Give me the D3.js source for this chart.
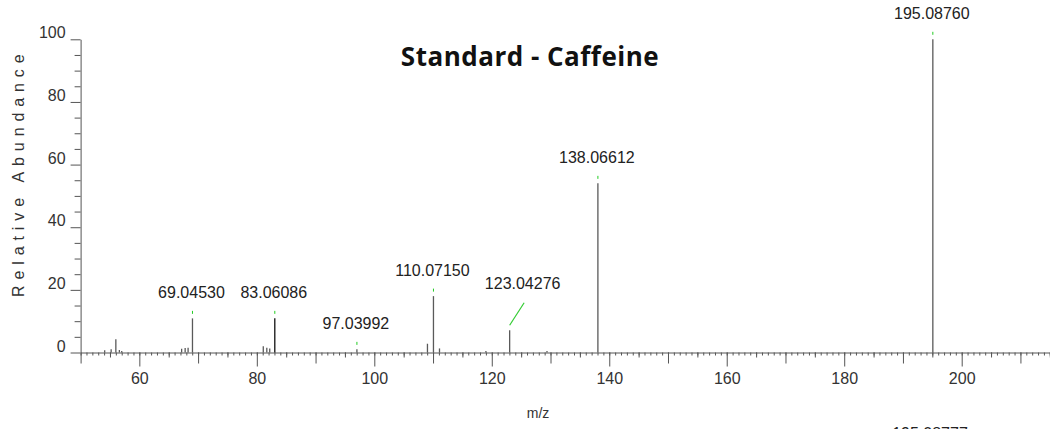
<!DOCTYPE html>
<html>
<head>
<meta charset="utf-8">
<script src="https://cdn.jsdelivr.net/npm/d3@7"></script>
<style>
  html, body { margin: 0; padding: 0; background: #fff; }
  svg { display: block; }
</style>
</head>
<body>
<svg id="chart" width="1050" height="429"></svg>
<script>
// Mass spectrum of a caffeine standard: centroid peaks (m/z, relative abundance %)
const peakMz = [54.1, 55.2, 56.0, 56.6, 57.0, 67.2, 67.8, 68.3, 69.04530, 81.1, 81.7, 82.2,
                83.06086, 97.03992, 109.05, 110.07150, 111.1, 119.0, 123.04276, 129.4,
                138.06612, 195.08760];
const peakIntensity = [0.7, 1.0, 4.2, 0.8, 0.5, 1.2, 1.4, 1.5, 10.9, 2.0, 1.5, 1.3,
                       10.9, 1.0, 2.8, 18.0, 1.3, 0.5, 7.1, 0.5,
                       54.0, 100];
// Peaks that carry an m/z annotation
const labeledMz = [69.04530, 83.06086, 97.03992, 110.07150, 123.04276, 138.06612, 195.08760];
const labeledText = ["69.04530", "83.06086", "97.03992", "110.07150", "123.04276", "138.06612", "195.08760"];
// Axis ticks
const xTickLabels = [60, 80, 100, 120, 140, 160, 180, 200];
const yTickLabels = [0, 20, 40, 60, 80, 100];
const xDomain = [50, 215];
const yDomain = [0, 100];

const svg = d3.select("#chart");
const x = d3.scaleLinear().domain(xDomain).range([80.6, 1049.8]);
const y = d3.scaleLinear().domain(yDomain).range([352.5, 39.3]);
const axisColor = "#555";
const textColor = "#333";
const tickFont = "'Liberation Sans', Arial, sans-serif";

function styleAxis(g, keepDomain) {
  if (!keepDomain) g.select(".domain").remove();
  else g.select(".domain").attr("stroke", axisColor);
  g.selectAll(".tick line").attr("stroke", axisColor);
}

// x axis: 1-unit, 5-unit, 10-unit and labelled 20-unit ticks
const range = (a, b, s) => d3.range(a, b + 1e-9, s);
svg.append("g").attr("transform", `translate(0,${y(0)})`)
  .call(d3.axisBottom(x).tickValues(range(51, 215, 1)).tickSize(3).tickFormat(""))
  .call(g => styleAxis(g, true));
svg.append("g").attr("transform", `translate(0,${y(0)})`)
  .call(d3.axisBottom(x).tickValues(range(55, 215, 10)).tickSize(5).tickFormat(""))
  .call(g => styleAxis(g, false));
svg.append("g").attr("transform", `translate(0,${y(0)})`)
  .call(d3.axisBottom(x).tickValues(range(50, 215, 10).filter(v => !xTickLabels.includes(v))).tickSize(11).tickFormat(""))
  .call(g => styleAxis(g, false));
svg.append("g").attr("transform", `translate(0,${y(0)})`)
  .call(d3.axisBottom(x).tickValues(xTickLabels).tickSize(14).tickPadding(6).tickFormat(d3.format("d")))
  .call(g => styleAxis(g, false))
  .call(g => g.selectAll("text").attr("fill", textColor)
    .style("font-family", tickFont).style("font-size", "16px"));

// y axis: minor ticks every 5, labelled every 20
svg.append("g").attr("transform", `translate(${x(50)},0)`)
  .call(d3.axisLeft(y).tickValues(range(5, 95, 5).filter(v => v % 20 !== 0)).tickSize(6).tickFormat(""))
  .call(g => styleAxis(g, false));
svg.append("g").attr("transform", `translate(${x(50)},0)`)
  .call(d3.axisLeft(y).tickValues(yTickLabels).tickSize(10).tickSizeOuter(0).tickPadding(5).tickFormat(d3.format("d")))
  .call(g => styleAxis(g, true))
  .call(g => g.selectAll("text").attr("fill", textColor).attr("dy", "-1.5")
    .style("font-family", tickFont).style("font-size", "16px"));

// stick spectrum
svg.append("g").selectAll("line")
  .data(peakMz.map((m, i) => ({ mz: m, v: peakIntensity[i] })))
  .join("line")
  .attr("x1", d => x(d.mz)).attr("x2", d => x(d.mz))
  .attr("y1", y(0)).attr("y2", d => y(d.v))
  .attr("stroke", d => d.mz === 83.06086 ? "#111" : "#5a5a5a")
  .attr("stroke-width", 1.3);

// annotations: green marker above each labelled peak, m/z text above it
const ann = labeledMz.map((m, i) => ({ mz: m, text: labeledText[i], v: peakIntensity[peakMz.indexOf(m)] }));
const annG = svg.append("g");
ann.forEach(d => {
  const px = x(d.mz), py = y(d.v);
  if (d.mz === 123.04276) {
    // label pushed aside, joined by a leader line
    annG.append("line").attr("x1", px).attr("y1", py - 5).attr("x2", px + 14.5).attr("y2", py - 27.5)
      .attr("stroke", "#3c3").attr("stroke-width", 1.2);
    annG.append("text").attr("x", px + 13).attr("y", py - 41.5).text(d.text);
  } else {
    annG.append("line").attr("x1", px).attr("x2", px).attr("y1", py - 7.5).attr("y2", py - 4.5)
      .attr("stroke", "#2c2").attr("stroke-width", 1);
    annG.append("text").attr("x", px - 1).attr("y", py - 20.5).text(d.text);
  }
});
annG.selectAll("text").attr("text-anchor", "middle").attr("fill", "#222")
  .style("font-family", tickFont).style("font-size", "16px");

// label of a neighbouring trace, partly below the frame
svg.append("text").attr("x", 930).attr("y", 439).attr("text-anchor", "middle")
  .attr("fill", "#222").style("font-family", tickFont).style("font-size", "16px")
  .text("195.08777");

// axis titles
svg.append("text").attr("transform", "translate(24,297) rotate(-90)")
  .attr("text-anchor", "start").attr("fill", textColor)
  .style("font-family", tickFont).style("font-size", "16px").style("letter-spacing", "5.9px")
  .text("Relative Abundance");
svg.append("text").attr("x", 538).attr("y", 418).attr("text-anchor", "middle").attr("fill", textColor)
  .style("font-family", tickFont).style("font-size", "14px").text("m/z");

// chart title
svg.append("text").attr("x", 530).attr("y", 66).attr("text-anchor", "middle").attr("fill", "#111")
  .style("font-family", "'Open Sans', Lato, sans-serif").style("font-weight", "bold").style("font-size", "26px")
  .style("letter-spacing", "0.5px")
  .text("Standard - Caffeine");
</script>
</body>
</html>
